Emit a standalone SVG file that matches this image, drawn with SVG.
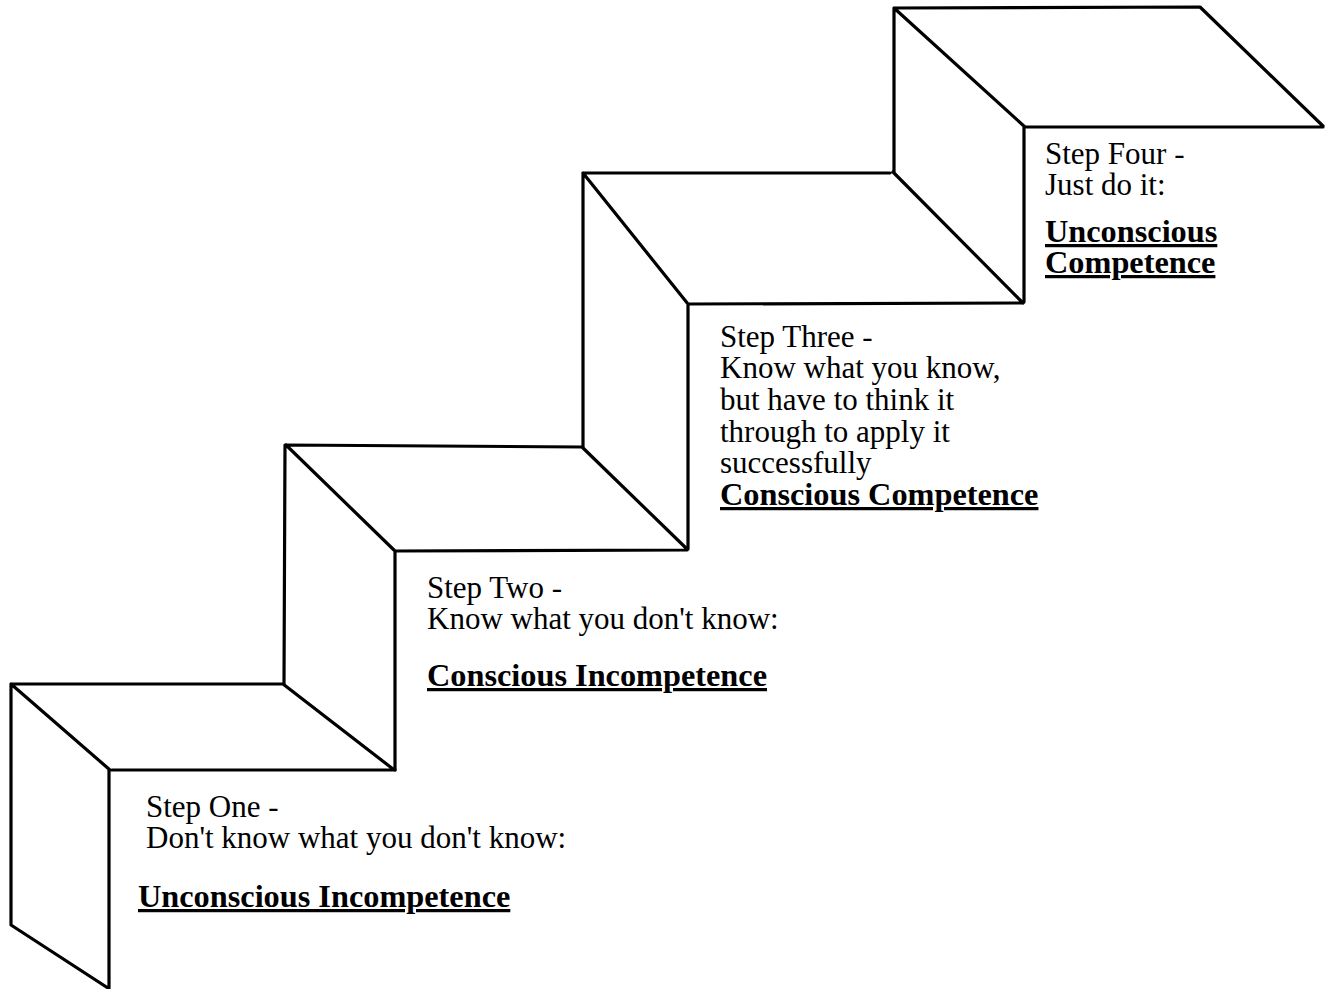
<svg xmlns="http://www.w3.org/2000/svg" width="1331" height="989" viewBox="0 0 1331 989">
<style>
.ln{fill:none;stroke:#000;stroke-width:3.2;stroke-linecap:round;stroke-linejoin:round}
.t{font-family:"Liberation Serif","Times New Roman",serif;font-size:31px;fill:#000}
.b{font-weight:bold;font-size:32.3px;text-decoration:underline}
</style>
<rect width="1331" height="989" fill="#fff"/>
<g id="step1">
<path class="ln" d="M11,684 L283,684 L393,769 M112,770 L395,770 M11,684 L110,770 M11,684 L11,925 L108,988 M109,770 L109,989"/>
<text class="t" x="146" y="817">Step One -</text>
<text class="t" x="146" y="848">Don't know what you don't know:</text>
<text class="t b" x="138" y="907">Unconscious Incompetence</text>
</g>
<g id="step2">
<path class="ln" d="M285,445 L582,447 L687,549 M395,551 L687,550 M286,445 L395,551 M285,445 L284,684 M395,551 L395,770"/>
<text class="t" x="427" y="598">Step Two -</text>
<text class="t" x="427" y="629">Know what you don't know:</text>
<text class="t b" x="427" y="686">Conscious Incompetence</text>
</g>
<g id="step3">
<path class="ln" d="M583,173 L890,173 M893,172 L1023,303 M688,304 L1023,303 M583,173 L688,304 M583,173 L583,447 M688,304 L688,549"/>
<text class="t" x="720" y="347">Step Three -</text>
<text class="t" x="720" y="378">Know what you know,</text>
<text class="t" x="720" y="410">but have to think it</text>
<text class="t" x="720" y="442">through to apply it</text>
<text class="t" x="720" y="473">successfully</text>
<text class="t b" x="720" y="505">Conscious Competence</text>
</g>
<g id="step4">
<path class="ln" d="M894,8 L1200,7 L1323,126 M1025,127 L1323,127 M894,8 L1025,127 M894,8 L894,172 M1024,127 L1024,302"/>
<text class="t" x="1045" y="164">Step Four -</text>
<text class="t" x="1045" y="195">Just do it:</text>
<text class="t b" x="1045" y="242">Unconscious</text>
<text class="t b" x="1045" y="273">Competence</text>
</g>
<g id="connectors"/>
</svg>
